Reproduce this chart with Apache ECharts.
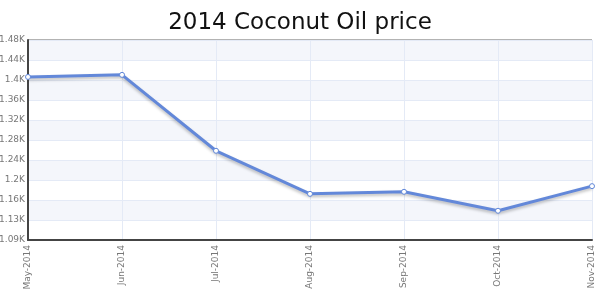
<!DOCTYPE html>
<html>
<head>
<meta charset="utf-8">
<script src="https://cdn.jsdelivr.net/npm/echarts@6/dist/echarts.min.js"></script>
<style>html,body{margin:0;padding:0;background:#fff;}#c{width:600px;height:290px;}</style>
</head>
<body>
<div id="c"></div>
<script>
const categories = ['May-2014','Jun-2014','Jul-2014','Aug-2014','Sep-2014','Oct-2014','Nov-2014'];
const prices = [1408, 1412, 1264, 1180, 1184, 1147, 1195];
const yTickLabels = ['1.09K','1.13K','1.16K','1.2K','1.24K','1.28K','1.32K','1.36K','1.4K','1.44K','1.48K'];

const chart = echarts.init(document.getElementById('c'), null, {renderer: 'canvas'});
chart.setOption({
  animation: false,
  title: {
    text: '2014 Coconut Oil price',
    left: 'center',
    top: 7,
    textStyle: {fontFamily: 'DejaVu Sans', fontSize: 23, fontWeight: 'normal', color: '#111'}
  },
  grid: {
    left: 28, right: 8, top: 40, bottom: 50,
    outerBoundsMode: 'none',
    containLabel: false,
    show: true, borderColor: '#666', borderWidth: 1, backgroundColor: 'transparent'
  },
  xAxis: {
    type: 'category',
    data: categories,
    boundaryGap: false,
    axisLine: {lineStyle: {color: '#444', width: 2}},
    axisTick: {show: false},
    axisLabel: {rotate: 90, fontSize: 9, fontFamily: 'DejaVu Sans', color: '#777', margin: 5, interval: 0},
    splitLine: {show: true, lineStyle: {color: '#e4eaf6', width: 1}}
  },
  yAxis: {
    type: 'value',
    min: 1090, max: 1480, interval: 39,
    axisLine: {show: true, lineStyle: {color: '#444', width: 2}},
    axisTick: {show: false},
    axisLabel: {
      fontSize: 9, fontFamily: 'DejaVu Sans', color: '#777', margin: 3,
      formatter: function (v, i) { return yTickLabels[i] !== undefined ? yTickLabels[i] : ''; }
    },
    splitLine: {show: true, lineStyle: {color: '#e4eaf6', width: 1}},
    splitArea: {show: true, areaStyle: {color: ['#ffffff', '#f4f6fb']}}
  },
  series: [{
    type: 'line',
    data: prices,
    symbol: 'circle',
    symbolSize: 5,
    itemStyle: {color: '#ffffff', borderColor: '#5f86d8', borderWidth: 1},
    lineStyle: {color: '#6388d9', width: 3, shadowColor: 'rgba(0,0,0,0.25)', shadowBlur: 3, shadowOffsetY: 2},
    emphasis: {disabled: true}
  }]
});
</script>
</body>
</html>
